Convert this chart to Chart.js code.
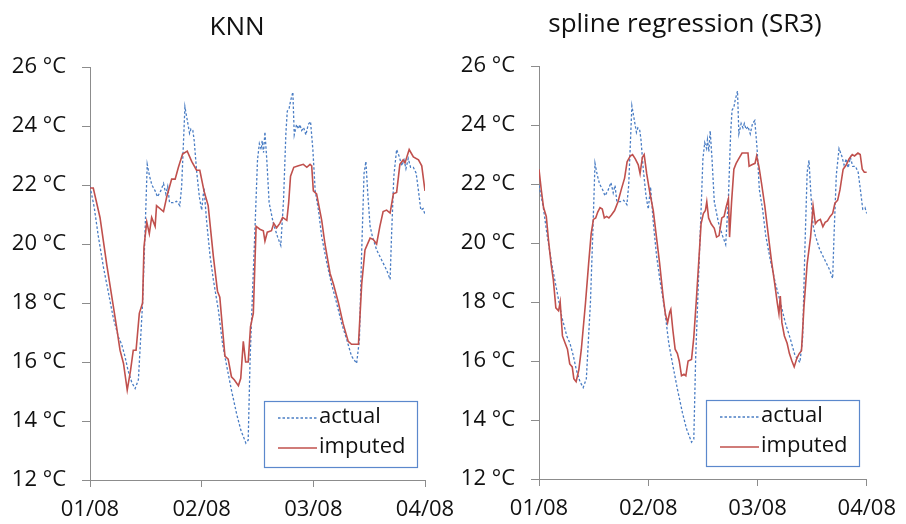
<!DOCTYPE html>
<html>
<head>
<meta charset="utf-8">
<title>KNN vs spline regression</title>
<script src="https://cdn.jsdelivr.net/npm/chart.js@4.4.1/dist/chart.umd.min.js"></script>
<style>
  html, body { margin: 0; padding: 0; background: #fff; }
  #wrap { position: relative; width: 906px; height: 524px; overflow: hidden; }
  canvas { position: absolute; top: 0; }
  #knn { left: 0; }
  #sr3 { left: 453px; }
</style>
</head>
<body>
<div id="wrap">
  <canvas id="knn" width="470" height="524"></canvas>
  <canvas id="sr3" width="453" height="524"></canvas>
</div>
<script>
// x values are hours since 01/08 00:00
var dayLabels = ['01/08', '02/08', '03/08', '04/08'];
var seriesNames = ['actual', 'imputed'];

var actualHours = [
  0, 0.9, 1.8, 2.9, 3.9, 5.0, 6.1, 6.8, 7.5, 8.2,
  9.0, 9.7, 10.4, 10.9, 11.3, 11.8, 12.3, 12.8, 13.3, 14.0,
  14.5, 15.2, 15.8, 16.3, 16.7, 17.1, 17.9, 18.6, 19.3, 19.7,
  20.4, 20.9, 21.4, 21.7, 22.1, 22.4, 22.9, 23.5, 24.0, 24.5,
  25.1, 25.8, 26.5, 27.6, 28.5, 29.4, 30.4, 31.5, 32.4, 33.5,
  34.0, 34.4, 35.0, 35.5, 36.0, 36.4, 36.8, 37.0, 37.3, 37.6,
  38.0, 38.5, 39.4, 40.3, 41.0, 41.6, 42.1, 42.4, 42.8, 43.1,
  43.6, 43.9, 44.4, 44.8, 45.1, 45.5, 45.9, 46.4, 46.9, 47.4,
  47.9, 48.4, 49.1, 49.8, 50.9, 51.9, 53.0, 54.1, 55.2, 56.2,
  57.3, 57.9, 58.4, 58.9, 59.3, 59.7, 60.2, 60.7, 61.6, 62.7,
  63.8, 64.5, 64.8, 65.3, 65.9, 66.5, 67.0, 67.5, 67.9, 68.4,
  68.9, 69.5, 70.1, 70.6, 71.1, 71.6, 72.0
];
var actualTemps = [
  21.95, 21.25, 20.25, 19.2, 18.4, 17.5, 16.85, 16.6, 16.2, 15.7,
  15.3, 15.1, 15.4, 16.85, 18.0, 20.25, 22.7, 22.3, 22.0, 21.8,
  21.6, 21.8, 22.05, 21.7, 21.95, 21.4, 21.4, 21.45, 21.3, 21.95,
  24.65, 24.2, 23.75, 23.9, 23.85, 23.5, 22.5, 21.6, 21.15, 21.9,
  20.7, 19.6, 18.8, 17.75, 16.6, 15.85, 15.05, 14.25, 13.7, 13.25,
  13.35, 16.05, 18.65, 20.7, 22.85, 23.4, 23.2, 23.5, 23.1, 23.8,
  22.85, 21.4, 20.7, 20.25, 19.95, 21.5, 23.75, 24.5, 24.6, 24.85,
  25.15, 23.7, 24.05, 23.9, 24.05, 23.85, 23.95, 23.7, 24.05, 24.15,
  23.2, 21.8, 21.15, 20.25, 19.35, 18.65, 18.0, 17.3, 16.75, 16.2,
  15.95, 16.75, 19.8, 22.4, 22.8, 21.7, 20.6, 20.25, 19.8, 19.45,
  19.1, 18.8, 20.25, 22.3, 23.2, 22.95, 22.65, 22.85, 22.55, 22.9,
  22.6, 22.6, 22.4, 21.8, 21.15, 21.2, 21.0
];

var knnHours = [
  0, 0.7, 2.15, 3.6, 5.0, 5.7, 6.45, 7.2, 8.0, 8.7,
  9.3, 9.9, 10.6, 11.3, 11.6, 12.2, 12.75, 13.25, 14.0, 14.3,
  15.8, 16.5, 17.55, 18.3, 19.0, 19.9, 20.9, 21.85, 22.9, 23.6,
  24.5, 25.4, 26.5, 27.4, 27.9, 28.5, 29.0, 29.7, 30.4, 31.0,
  31.9, 32.4, 32.95, 33.45, 34.0, 34.5, 35.1, 35.7, 36.5, 37.25,
  37.6, 38.1, 39.0, 39.5, 40.1, 40.8, 41.4, 42.3, 42.7, 43.1,
  43.8, 44.8, 45.85, 46.6, 47.3, 47.65, 48.0, 48.7, 49.8, 50.5,
  51.6, 52.3, 53.4, 54.4, 55.5, 56.2, 57.7, 58.4, 59.1, 60.2,
  60.9, 61.6, 62.3, 63.0, 63.75, 64.5, 65.2, 65.9, 66.6, 67.3,
  67.7, 68.6, 69.5, 70.6, 71.3, 72.0
];
var knnTemps = [
  21.9, 21.9, 20.9, 19.3, 17.9, 17.2, 16.4, 15.95, 15.05, 15.7,
  16.4, 16.4, 17.65, 18.0, 19.9, 20.75, 20.35, 20.9, 20.6, 21.3,
  21.1, 21.6, 22.2, 22.2, 22.6, 23.05, 23.15, 22.8, 22.5, 22.5,
  21.8, 21.3, 19.6, 18.4, 18.2, 17.1, 16.2, 16.1, 15.5, 15.4,
  15.2, 15.45, 16.7, 16.0, 16.0, 17.2, 17.65, 20.6, 20.5, 20.45,
  20.1, 20.4, 20.45, 20.7, 20.55, 20.7, 20.9, 20.8, 21.4, 22.3,
  22.6, 22.65, 22.7, 22.6, 22.7, 22.65, 21.8, 21.7, 20.8, 20.0,
  19.0, 18.65, 18.0, 17.3, 16.7, 16.6, 16.6, 18.65, 19.8, 20.2,
  20.15, 20.0, 20.6, 21.1, 21.15, 21.05, 21.7, 21.75, 22.7, 22.85,
  22.75, 23.2, 22.95, 22.85, 22.65, 21.8
];

var sr3Hours = [
  0, 0.5, 1.0, 1.6, 2.15, 2.65, 3.15, 3.7, 4.3, 4.65,
  5.15, 5.75, 6.25, 6.75, 7.3, 7.65, 8.15, 8.75, 9.3, 10.2,
  10.9, 11.45, 11.95, 12.45, 12.9, 13.4, 13.9, 14.35, 14.85, 15.35,
  15.9, 16.6, 17.35, 18.05, 18.8, 19.35, 20.05, 20.55, 21.15, 21.8,
  22.2, 22.7, 23.1, 23.65, 24.35, 25.1, 25.8, 26.5, 27.25, 27.75,
  28.25, 28.7, 28.95, 29.4, 29.9, 30.4, 30.8, 31.3, 31.85, 32.25,
  32.75, 33.5, 34.0, 34.55, 35.1, 35.6, 36.1, 36.55, 36.85, 37.25,
  37.8, 38.5, 39.0, 39.55, 40.15, 40.65, 41.15, 41.6, 41.85, 42.3,
  42.8, 43.3, 43.85, 44.6, 45.3, 45.9, 46.15, 46.75, 47.45, 47.8,
  48.3, 48.9, 49.6, 50.3, 51.05, 51.75, 52.35, 52.7, 53.0, 53.35,
  53.9, 54.5, 55.0, 55.55, 56.05, 56.65, 57.15, 57.65, 58.2, 58.9,
  59.65, 60.2, 60.7, 61.2, 61.8, 62.35, 62.85, 63.35, 63.95, 64.5,
  65.0, 65.6, 66.1, 66.8, 67.5, 68.1, 68.8, 69.3, 70.05, 70.55,
  71.0, 71.45, 72.0
];
var sr3Temps = [
  22.5, 21.8, 21.2, 20.9, 20.0, 19.3, 18.75, 17.8, 17.7, 18.0,
  16.85, 16.6, 16.4, 15.9, 15.8, 15.4, 15.3, 15.7, 16.4, 17.95,
  19.3, 20.3, 20.8, 20.85, 21.05, 21.2, 21.15, 20.85, 20.9, 20.85,
  20.95, 21.1, 21.4, 21.8, 22.2, 22.75, 22.95, 23.0, 22.85, 22.65,
  22.35, 22.9, 23.0, 22.35, 21.7, 21.1, 20.2, 19.3, 18.2, 17.6,
  17.3, 17.65, 17.75, 17.05, 16.4, 16.25, 16.0, 15.5, 15.55, 15.5,
  16.0, 16.05, 16.8, 18.05, 19.4, 20.65, 21.0, 21.1, 21.4, 20.85,
  20.65, 20.5, 20.2, 20.25, 20.85, 20.9, 21.25, 21.5, 20.2, 21.4,
  22.5, 22.7, 22.85, 23.05, 23.05, 23.05, 22.6, 22.65, 22.7, 22.95,
  22.6, 22.0, 21.25, 20.35, 19.4, 18.65, 17.95, 17.6, 18.2, 17.3,
  16.85, 16.6, 16.25, 16.0, 15.8, 16.1, 16.25, 16.35, 17.85, 19.3,
  20.2, 21.25, 20.65, 20.75, 20.8, 20.55, 20.7, 20.75, 20.9, 21.0,
  21.35, 21.45, 21.8, 22.5, 22.65, 22.85, 23.0, 22.95, 23.05, 23.0,
  22.5, 22.4, 22.4
];

var FONT = "'Open Sans', 'DejaVu Sans', sans-serif";
var AXIS_GREY = '#8c8c8c';

function toPoints(hours, temps) {
  return hours.map(function (h, i) { return { x: h, y: temps[i] }; });
}

// chart heading, placed freely above the plot
var headline = {
  id: 'headline',
  afterDraw: function (chart, args, opts) {
    var ctx = chart.ctx;
    ctx.save();
    ctx.font = '26px ' + FONT;
    ctx.fillStyle = '#111';
    ctx.textAlign = 'center';
    ctx.textBaseline = 'alphabetic';
    ctx.fillText(opts.text, opts.x, opts.baseline);
    ctx.restore();
  }
};

// legend drawn as a framed box in the lower right of the plot area
var boxLegend = {
  id: 'boxLegend',
  afterDraw: function (chart, args, opts) {
    var ctx = chart.ctx;
    var area = chart.chartArea;
    var w = 153, h = 66;
    var x = Math.round(area.right - opts.right - w);
    var y = Math.round(area.bottom - opts.bottom - h);
    ctx.save();
    ctx.fillStyle = '#ffffff';
    ctx.fillRect(x, y, w, h);
    ctx.strokeStyle = '#5b88cc';
    ctx.lineWidth = 1.2;
    ctx.strokeRect(x + 0.5, y + 0.5, w, h);
    ctx.font = '22px ' + FONT;
    ctx.textBaseline = 'middle';
    ctx.fillStyle = '#111';
    chart.data.datasets.forEach(function (ds, i) {
      var cy = y + 17 + i * 30;
      ctx.beginPath();
      ctx.strokeStyle = ds.borderColor;
      ctx.lineWidth = ds.borderWidth;
      ctx.setLineDash(ds.borderDash || []);
      ctx.moveTo(x + 14, cy);
      ctx.lineTo(x + 53, cy);
      ctx.stroke();
      ctx.setLineDash([]);
      ctx.fillText(ds.label, x + 55, cy - 1);
    });
    ctx.restore();
  }
};

function makeChart(id, title, impHours, impTemps, g) {
  var ctx = document.getElementById(id);
  return new Chart(ctx, {
    type: 'line',
    data: {
      datasets: [
        {
          label: seriesNames[0],
          data: toPoints(actualHours, actualTemps),
          borderColor: '#4a7dc4',
          borderWidth: 1.3,
          borderDash: [2.5, 2],
          pointRadius: 0,
          tension: 0,
          order: 1
        },
        {
          label: seriesNames[1],
          data: toPoints(impHours, impTemps),
          borderColor: '#c0504d',
          borderWidth: 1.6,
          pointRadius: 0,
          tension: 0,
          order: 0
        }
      ]
    },
    options: {
      responsive: false,
      animation: false,
      layout: { padding: { left: 0, right: g.padRight, top: g.padTop, bottom: 0 } },
      plugins: {
        legend: { display: false },
        tooltip: { enabled: false },
        title: { display: false },
        headline: { text: title, x: g.titleX, baseline: g.titleBaseline },
        boxLegend: { right: 8, bottom: 13 }
      },
      scales: {
        x: {
          type: 'linear',
          min: 0,
          max: 72,
          afterFit: function (scale) { scale.height = g.xHeight; },
          ticks: {
            stepSize: 24,
            autoSkip: false,
            maxRotation: 0,
            padding: 10,
            color: '#111',
            font: { family: FONT, size: 22 },
            callback: function (v) { return dayLabels[v / 24]; }
          },
          grid: { drawOnChartArea: false, drawTicks: true, tickLength: 7, color: AXIS_GREY },
          border: { display: true, color: AXIS_GREY, width: 1 }
        },
        y: {
          min: 12,
          max: 26,
          afterFit: function (scale) { scale.width = g.yWidth; },
          ticks: {
            stepSize: 2,
            padding: 16,
            color: '#111',
            font: { family: FONT, size: 22 },
            callback: function (v) { return v + ' °C'; }
          },
          grid: { drawOnChartArea: false, drawTicks: true, tickLength: 8, color: AXIS_GREY },
          border: { display: true, color: AXIS_GREY, width: 1 }
        }
      }
    },
    plugins: [headline, boxLegend]
  });
}

makeChart('knn', 'KNN', knnHours, knnTemps,
  { padTop: 67, padRight: 45, yWidth: 90, xHeight: 44, titleX: 237, titleBaseline: 35 });
makeChart('sr3', 'spline regression (SR3)', sr3Hours, sr3Temps,
  { padTop: 66, padRight: 32, yWidth: 86, xHeight: 45, titleX: 232, titleBaseline: 32 });
</script>
</body>
</html>
